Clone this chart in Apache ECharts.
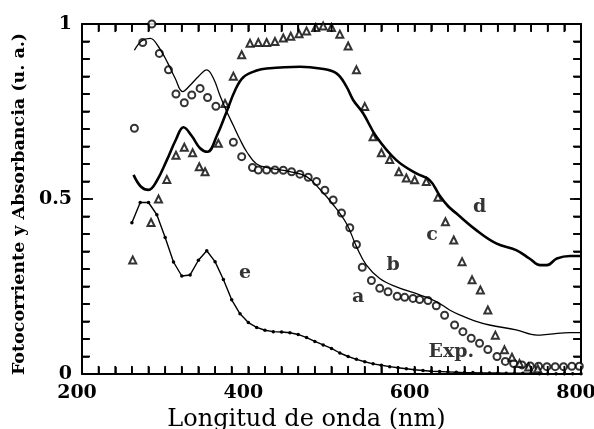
<!DOCTYPE html>
<html>
<head>
<meta charset="utf-8">
<script src="https://cdn.jsdelivr.net/npm/echarts@6/dist/echarts.min.js"></script>
<style>html,body{margin:0;padding:0;background:#fff}#c{width:594px;height:429px}</style>
</head>
<body>
<div id="c"></div>
<script>
// Curve b (thin line)
const bX = [263,272,282,292,303,312,321,330,340,350,358,366,374,382,390,398,410,426,450,470,486,500,518,530,542,558,578,606,626,642,654,672,690,722,747,763,787,800];
const bY = [0.925,0.952,0.959,0.935,0.889,0.845,0.807,0.825,0.85,0.869,0.845,0.795,0.75,0.71,0.67,0.635,0.6,0.588,0.578,0.564,0.528,0.49,0.43,0.364,0.311,0.273,0.249,0.226,0.207,0.183,0.169,0.152,0.14,0.126,0.111,0.114,0.118,0.118];
// Curve d (thick line)
const dX = [262,271,280,290,302,313,322,332,342,351,362,374,384,394,410,422,462,486,506,518,526,538,554,578,602,618,630,640,650,674,698,722,738,751,759,771,787,800];
const dY = [0.569,0.535,0.526,0.552,0.611,0.67,0.705,0.68,0.645,0.635,0.68,0.75,0.81,0.848,0.867,0.873,0.878,0.873,0.859,0.821,0.783,0.745,0.678,0.611,0.573,0.554,0.51,0.48,0.459,0.411,0.373,0.354,0.33,0.311,0.311,0.33,0.337,0.337];
// Curve e (line with dots), every 10 nm from 260 to 800
const eX = [260,270,280,290,300,310,320,330,340,350,360,370,380,390,400,410,420,430,440,450,460,470,480,490,500,510,520,530,540,550,560,570,580,590,600,610,620,630,640,650,660,670,680,690,700,710,720,730,740,750,760,770,780,790,800];
const eY = [0.432,0.49,0.49,0.455,0.39,0.32,0.28,0.283,0.325,0.352,0.321,0.27,0.212,0.172,0.147,0.133,0.125,0.121,0.12,0.118,0.113,0.104,0.093,0.083,0.073,0.06,0.05,0.042,0.035,0.029,0.025,0.021,0.018,0.015,0.012,0.01,0.008,0.007,0.006,0.005,0.004,0.004,0.003,0.003,0.003,0.002,0.002,0.002,0.002,0.001,0.001,0.001,0.001,0.001,0.001];
// Open circles (a / Exp.)
const aX = [263,273,284,293,304,313,323,332,342,351,361,382,392,405,412,422,432,442,452,462,472,482,492,502,512,522,530,537,548,558,568,579,588,598,606,616,626,636,648,658,668,678,688,699,709,719,729,739,749,759,769,779,789,798];
const aY = [0.702,0.947,1.0,0.916,0.869,0.8,0.775,0.797,0.816,0.79,0.765,0.662,0.621,0.59,0.583,0.583,0.583,0.582,0.578,0.571,0.562,0.55,0.525,0.497,0.46,0.418,0.37,0.305,0.267,0.245,0.235,0.222,0.219,0.216,0.213,0.21,0.195,0.168,0.14,0.121,0.102,0.088,0.07,0.05,0.036,0.03,0.026,0.023,0.022,0.021,0.021,0.021,0.022,0.022];
// Open triangles (c)
const cX = [261,283,292,302,313,323,333,341,348,364,372,382,392,402,412,422,432,442,451,461,470,481,490,500,510,520,530,540,550,560,570,581,590,600,614,628,637,647,657,669,679,688,697,708,717,726,737,748];
const cY = [0.326,0.433,0.5,0.556,0.625,0.648,0.632,0.592,0.578,0.659,0.773,0.851,0.912,0.945,0.947,0.947,0.95,0.96,0.965,0.972,0.98,0.99,0.994,0.99,0.971,0.937,0.869,0.764,0.678,0.632,0.613,0.578,0.56,0.555,0.55,0.505,0.435,0.383,0.321,0.269,0.24,0.183,0.111,0.069,0.048,0.03,0.02,0.015];
// Tick labels shown
const xTickLabels = [200, 400, 600, 800];
const yTickLabels = [0, 0.5, 1];
// Tick mark positions (every 20 nm / every 0.05)
const xTicks = [];
for (let v = 200; v <= 800; v += 20) xTicks.push(v);
const yTicks = [];
for (let k = 0; k <= 20; k++) yTicks.push(+(k * 0.05).toFixed(2));
// Curve labels
const labNames = ['e','d','c','b','a','Exp.'];
const labX = [396,678,621,574,532,644];
const labY = [0.289,0.477,0.397,0.311,0.22,0.063];

const zip = (xs, ys) => xs.map((x, i) => [x, ys[i]]);
const serif = '"DejaVu Serif","Liberation Serif",serif';
const chart = echarts.init(document.getElementById('c'), null, {renderer: 'canvas'});
const near = (v, list) => list.find(t => Math.abs(v - t) < 1e-6);
const isMajorY = v => near(v, yTickLabels) !== undefined;

function mkAxis(extra) {
  return Object.assign({
    axisLine: {show: true, onZero: false, lineStyle: {color: '#000', width: 2}},
    axisTick: {show: true, inside: true, length: 7, lineStyle: {color: '#000', width: 1.5}},
    splitLine: {show: false}
  }, extra);
}

// Tick marks as separate two-point line series in axis units, pointing inward from the frame
const X_LEN = 9.6, X_LEN_MAJOR = 13.2;   // nm (~8px / ~11px)
const Y_LEN = 0.023;                      // absorbance units (~8px)
const tickSegments = [];
xTicks.forEach(v => {
  tickSegments.push([[v, 0], [v, Y_LEN]]);
  tickSegments.push([[v, 1], [v, 1 - Y_LEN]]);
});
yTicks.forEach(v => {
  const l = isMajorY(v) ? X_LEN_MAJOR : X_LEN;
  tickSegments.push([[200, v], [200 + l, v]]);
  tickSegments.push([[800, v], [800 - l, v]]);
});
const tickSeries = tickSegments.map(seg => ({
  type: 'line', data: seg, showSymbol: false, silent: true, z: 4,
  lineStyle: {color: '#000', width: 1.8}
}));

chart.setOption({
  animation: false,
  backgroundColor: '#fff',
  grid: {left: 82, right: 13, top: 24, bottom: 55, containLabel: false, outerBoundsMode: 'none'},
  xAxis: [
    mkAxis({
      type: 'value', min: 200, max: 800, interval: 20, position: 'bottom',
      name: 'Longitud de onda (nm)', nameLocation: 'middle', nameGap: 23,
      nameTextStyle: {fontFamily: serif, fontSize: 24, color: '#000', padding: [0, 50, 0, 0]},
      axisLabel: {fontFamily: serif, fontWeight: 'bold', fontSize: 19, color: '#000', margin: 10,
        padding: [0, 10, 0, 0], showMinLabel: true, showMaxLabel: true,
        formatter: v => { const t = near(v, xTickLabels); return t === undefined ? '' : String(t); }}
    }),
    mkAxis({
      type: 'value', min: 200, max: 800, interval: 20, position: 'top',
      axisLabel: {show: false}
    })
  ],
  yAxis: [
    mkAxis({
      type: 'value', min: 0, max: 1, interval: 0.05, position: 'left',
      name: 'Fotocorriente y Absorbancia (u. a.)', nameLocation: 'middle', nameGap: 53,
      nameTextStyle: {fontFamily: serif, fontWeight: 'bold', fontSize: 17.5, color: '#000', padding: [0, 10, 0, 0]},
      axisLabel: {fontFamily: serif, fontWeight: 'bold', fontSize: 19, color: '#000', margin: 10,
        padding: [0, 0, 10, 0], showMinLabel: true, showMaxLabel: true,
        formatter: v => { const t = near(v, yTickLabels); return t === undefined ? '' : String(t); }}
    }),
    mkAxis({
      type: 'value', min: 0, max: 1, interval: 0.05, position: 'right',
      axisLabel: {show: false}
    })
  ],
  series: tickSeries.concat([
    {type: 'line', data: zip(bX, bY), smooth: 0.4, showSymbol: false, lineStyle: {color: '#000', width: 1.3}},
    {type: 'line', data: zip(dX, dY), smooth: 0.4, showSymbol: false, lineStyle: {color: '#000', width: 2.6}},
    {type: 'line', data: zip(eX, eY), smooth: false, symbol: 'circle', symbolSize: 3.5, showSymbol: true,
      itemStyle: {color: '#000'}, lineStyle: {color: '#000', width: 1.4}},
    {type: 'scatter', data: zip(aX, aY), symbol: 'emptyCircle', symbolSize: 7,
      itemStyle: {color: '#000', borderColor: '#000', borderWidth: 1}},
    {type: 'scatter', data: zip(cX, cY), symbol: 'emptyTriangle', symbolSize: 7,
      itemStyle: {color: '#000', borderColor: '#000', borderWidth: 1}},
    {type: 'scatter', symbolSize: 0, silent: true,
      data: labNames.map((n, i) => ({name: n, value: [labX[i], labY[i]]})),
      label: {show: true, position: 'inside', formatter: p => p.name,
        fontFamily: serif, fontWeight: 'bold', fontSize: 19, color: '#000'}}
  ])
});
</script>
</body>
</html>
